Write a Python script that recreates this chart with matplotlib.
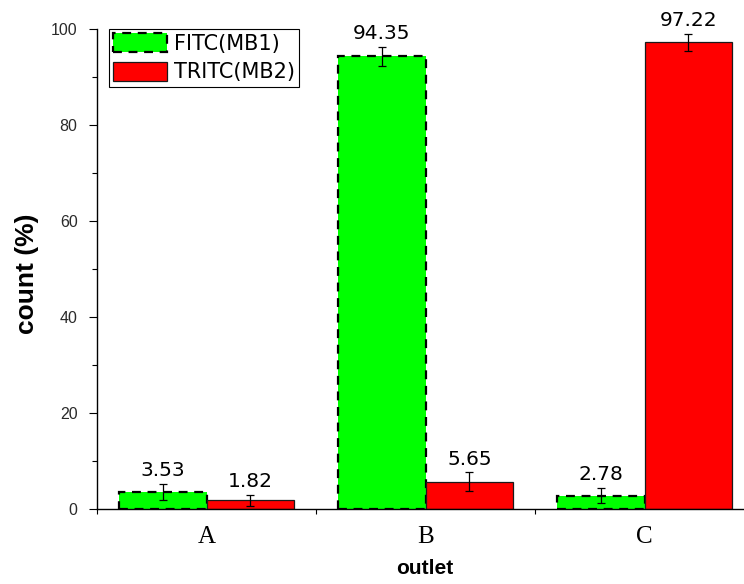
import matplotlib
matplotlib.use("Agg")
import matplotlib.pyplot as plt
from matplotlib.ticker import FixedLocator
import numpy as np

categories = ["A", "B", "C"]
fitc_values = [3.53, 94.35, 2.78]
tritc_values = [1.82, 5.65, 97.22]
fitc_err = [1.7, 2.0, 1.6]
tritc_err = [1.2, 2.0, 1.75]
series_labels = ["FITC(MB1)", "TRITC(MB2)"]
y_ticks = [0, 20, 40, 60, 80, 100]

plt.rcParams['font.family'] = ['Liberation Sans', 'DejaVu Sans']

W, H = 744, 584
fig = plt.figure(figsize=(W / 100, H / 100), dpi=100)
left, right, bottom, top = 97, 744, 509, 29
ax = fig.add_axes([left / W, (H - bottom) / H, (right - left) / W, (bottom - top) / H])

x = np.arange(len(categories))
bw = 0.40
ax.bar(x - bw / 2, fitc_values, bw, color="#00FF00", edgecolor="black",
       linewidth=1.6, linestyle=(0, (4, 3)), label=series_labels[0], zorder=2)
ax.bar(x + bw / 2, tritc_values, bw, color="#FF0000", edgecolor="#1a1a1a",
       linewidth=0.9, label=series_labels[1], zorder=2)
ax.errorbar(x - bw / 2, fitc_values, yerr=fitc_err, fmt="none", ecolor="black",
            elinewidth=0.9, capsize=3, capthick=0.9, zorder=3)
ax.errorbar(x + bw / 2, tritc_values, yerr=tritc_err, fmt="none", ecolor="black",
            elinewidth=0.9, capsize=3, capthick=0.9, zorder=3)

for xs, vals, errs in [(x - bw / 2, fitc_values, fitc_err), (x + bw / 2, tritc_values, tritc_err)]:
    for xi, v, e in zip(xs, vals, errs):
        ax.annotate(f"{v:.2f}", (xi, v + e), xytext=(0, 5.5), textcoords="offset points",
                    ha="center", va="baseline", fontsize=14.5, color="black",
                    family=["DejaVu Sans"])

ax.set_xlim(-0.5, 2.454)
ax.set_ylim(0, 100)

for s in ["top", "right"]:
    ax.spines[s].set_visible(False)
for s in ["left", "bottom"]:
    ax.spines[s].set_linewidth(1.0)

# x: major ticks at group boundaries, labels at centers
ax.xaxis.set_major_locator(FixedLocator([-0.5, 0.5, 1.5]))
ax.xaxis.set_major_formatter(plt.NullFormatter())
ax.set_xticks(x, categories, minor=True)
ax.tick_params(axis="x", which="major", direction="out", length=3.5, width=0.8)
ax.tick_params(axis="x", which="minor", length=0, pad=12)
for lab in ax.get_xticklabels(minor=True):
    lab.set_fontfamily(["Liberation Serif", "DejaVu Serif"])
    lab.set_fontsize(18)

ax.set_yticks(y_ticks)
ax.yaxis.set_minor_locator(FixedLocator([10, 30, 50, 70, 90]))
ax.tick_params(axis="y", which="major", direction="out", length=6, width=0.8,
               labelsize=11.5, labelcolor="#2a2a2a", pad=8)
ax.tick_params(axis="y", which="minor", direction="out", length=3.5, width=0.8)

fig.text(425 / W, 1 - 569 / H, "outlet", fontsize=15, fontweight="bold", ha="center", va="center")
fig.text(27 / W, 1 - 274 / H, "count (%)", fontsize=19, fontweight="bold", ha="center",
         va="center", rotation=90)

leg = ax.legend(loc="upper left", bbox_to_anchor=(109 / W, 1 - 29 / H),
                bbox_transform=fig.transFigure, frameon=True, fancybox=False,
                prop={"family": "DejaVu Sans", "size": 15},
                edgecolor="black", framealpha=1, borderpad=0.2, borderaxespad=0,
                handlelength=2.6, handleheight=1.0, handletextpad=0.33, labelspacing=0.4)
leg.get_frame().set_linewidth(0.8)

fig.savefig("out.png", dpi=100)
